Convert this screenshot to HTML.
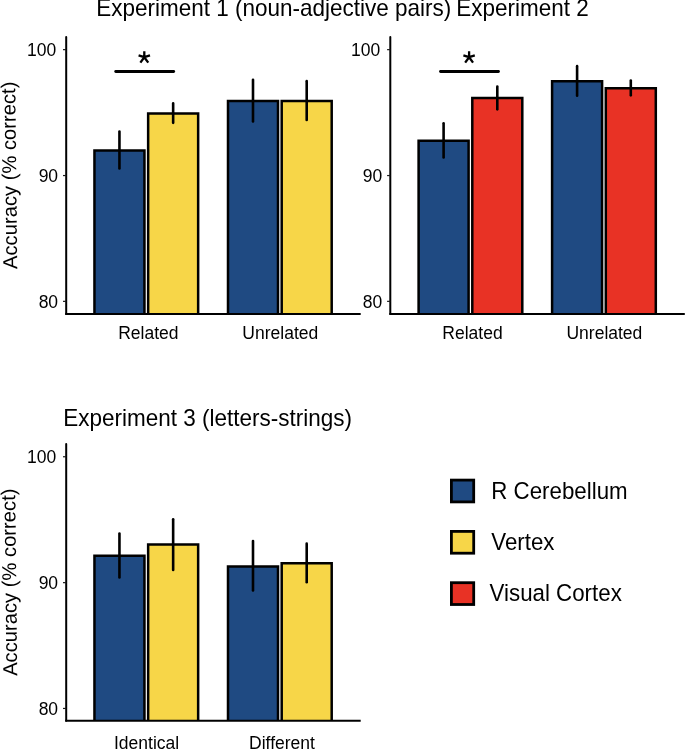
<!DOCTYPE html>
<html><head><meta charset="utf-8"><style>
html,body{margin:0;padding:0;background:#fff;width:685px;height:749px;overflow:hidden}
svg{display:block;will-change:transform;font-family:"Liberation Sans", sans-serif;fill:#000}
</style></head><body>
<svg width="685" height="749" viewBox="0 0 685 749">
<rect width="685" height="749" fill="#fff"/>
<line x1="66.2" y1="37" x2="66.2" y2="314.0" stroke="#000" stroke-width="2.0" stroke-linecap="round"/>
<path d="M94.45,314.0 V150.40 H144.45 V314.0" fill="#1f4a82" stroke="#000" stroke-width="2.5" stroke-linejoin="miter"/>
<path d="M148.15,314.0 V113.40 H198.15 V314.0" fill="#f7d648" stroke="#000" stroke-width="2.5" stroke-linejoin="miter"/>
<path d="M228.00,314.0 V101.05 H278.00 V314.0" fill="#1f4a82" stroke="#000" stroke-width="2.5" stroke-linejoin="miter"/>
<path d="M281.70,314.0 V101.05 H331.70 V314.0" fill="#f7d648" stroke="#000" stroke-width="2.5" stroke-linejoin="miter"/>
<line x1="119.45" y1="131.60" x2="119.45" y2="168.40" stroke="#000" stroke-width="2.6" stroke-linecap="round"/>
<line x1="173.15" y1="103.40" x2="173.15" y2="122.85" stroke="#000" stroke-width="2.6" stroke-linecap="round"/>
<line x1="253.00" y1="79.75" x2="253.00" y2="121.55" stroke="#000" stroke-width="2.6" stroke-linecap="round"/>
<line x1="306.70" y1="81.15" x2="306.70" y2="119.95" stroke="#000" stroke-width="2.6" stroke-linecap="round"/>
<line x1="65.2" y1="314.0" x2="360.7" y2="314.0" stroke="#000" stroke-width="2.0" stroke-linecap="butt"/>
<line x1="63.0" y1="49.65" x2="66.2" y2="49.65" stroke="#1a1a1a" stroke-width="1.2"/>
<text x="56.20" y="55.80" text-anchor="end" font-size="17.5">100</text>
<line x1="63.0" y1="175.55" x2="66.2" y2="175.55" stroke="#1a1a1a" stroke-width="1.2"/>
<text x="58.10" y="181.70" text-anchor="end" font-size="17.5">90</text>
<line x1="63.0" y1="301.34999999999997" x2="66.2" y2="301.34999999999997" stroke="#1a1a1a" stroke-width="1.2"/>
<text x="58.10" y="307.50" text-anchor="end" font-size="17.5">80</text>
<text x="148.40" y="338.5" text-anchor="middle" font-size="17.5">Related</text>
<text x="280.30" y="338.5" text-anchor="middle" font-size="17.5">Unrelated</text>
<line x1="115.7" y1="71.5" x2="173.7" y2="71.5" stroke="#000" stroke-width="2.8" stroke-linecap="round"/>
<path d="M144.30,57.20 L144.30,51.20 M144.30,57.20 L150.01,55.35 M144.30,57.20 L148.24,62.62 M144.30,57.20 L140.36,62.62 M144.30,57.20 L138.59,55.35" stroke="#000" stroke-width="2.3" fill="none"/>
<line x1="390.3" y1="37" x2="390.3" y2="314.0" stroke="#000" stroke-width="2.0" stroke-linecap="round"/>
<path d="M418.60,314.0 V140.65 H468.60 V314.0" fill="#1f4a82" stroke="#000" stroke-width="2.5" stroke-linejoin="miter"/>
<path d="M472.30,314.0 V98.05 H522.30 V314.0" fill="#e83225" stroke="#000" stroke-width="2.5" stroke-linejoin="miter"/>
<path d="M552.10,314.0 V81.35 H602.10 V314.0" fill="#1f4a82" stroke="#000" stroke-width="2.5" stroke-linejoin="miter"/>
<path d="M605.80,314.0 V88.30 H655.80 V314.0" fill="#e83225" stroke="#000" stroke-width="2.5" stroke-linejoin="miter"/>
<line x1="443.60" y1="123.25" x2="443.60" y2="157.55" stroke="#000" stroke-width="2.6" stroke-linecap="round"/>
<line x1="497.30" y1="86.55" x2="497.30" y2="109.35" stroke="#000" stroke-width="2.6" stroke-linecap="round"/>
<line x1="577.10" y1="66.15" x2="577.10" y2="95.75" stroke="#000" stroke-width="2.6" stroke-linecap="round"/>
<line x1="630.80" y1="80.45" x2="630.80" y2="95.35" stroke="#000" stroke-width="2.6" stroke-linecap="round"/>
<line x1="389.3" y1="314.0" x2="684.8" y2="314.0" stroke="#000" stroke-width="2.0" stroke-linecap="butt"/>
<line x1="387.1" y1="49.65" x2="390.3" y2="49.65" stroke="#1a1a1a" stroke-width="1.2"/>
<text x="380.30" y="55.80" text-anchor="end" font-size="17.5">100</text>
<line x1="387.1" y1="175.55" x2="390.3" y2="175.55" stroke="#1a1a1a" stroke-width="1.2"/>
<text x="382.20" y="181.70" text-anchor="end" font-size="17.5">90</text>
<line x1="387.1" y1="301.34999999999997" x2="390.3" y2="301.34999999999997" stroke="#1a1a1a" stroke-width="1.2"/>
<text x="382.20" y="307.50" text-anchor="end" font-size="17.5">80</text>
<text x="472.50" y="338.5" text-anchor="middle" font-size="17.5">Related</text>
<text x="604.40" y="338.5" text-anchor="middle" font-size="17.5">Unrelated</text>
<line x1="440.5" y1="71.5" x2="498.5" y2="71.5" stroke="#000" stroke-width="2.8" stroke-linecap="round"/>
<path d="M469.10,57.20 L469.10,51.20 M469.10,57.20 L474.81,55.35 M469.10,57.20 L473.04,62.62 M469.10,57.20 L465.16,62.62 M469.10,57.20 L463.39,55.35" stroke="#000" stroke-width="2.3" fill="none"/>
<line x1="66.2" y1="444.1" x2="66.2" y2="720.7" stroke="#000" stroke-width="2.0" stroke-linecap="round"/>
<path d="M94.45,720.7 V555.75 H144.45 V720.7" fill="#1f4a82" stroke="#000" stroke-width="2.5" stroke-linejoin="miter"/>
<path d="M148.15,720.7 V544.60 H198.15 V720.7" fill="#f7d648" stroke="#000" stroke-width="2.5" stroke-linejoin="miter"/>
<path d="M228.00,720.7 V566.45 H278.00 V720.7" fill="#1f4a82" stroke="#000" stroke-width="2.5" stroke-linejoin="miter"/>
<path d="M281.70,720.7 V563.25 H331.70 V720.7" fill="#f7d648" stroke="#000" stroke-width="2.5" stroke-linejoin="miter"/>
<line x1="119.45" y1="533.55" x2="119.45" y2="577.45" stroke="#000" stroke-width="2.6" stroke-linecap="round"/>
<line x1="173.15" y1="519.20" x2="173.15" y2="569.95" stroke="#000" stroke-width="2.6" stroke-linecap="round"/>
<line x1="253.00" y1="541.05" x2="253.00" y2="590.55" stroke="#000" stroke-width="2.6" stroke-linecap="round"/>
<line x1="306.70" y1="543.65" x2="306.70" y2="582.15" stroke="#000" stroke-width="2.6" stroke-linecap="round"/>
<line x1="65.2" y1="720.7" x2="360.7" y2="720.7" stroke="#000" stroke-width="2.0" stroke-linecap="butt"/>
<line x1="63.0" y1="456.75" x2="66.2" y2="456.75" stroke="#1a1a1a" stroke-width="1.2"/>
<text x="56.20" y="462.90" text-anchor="end" font-size="17.5">100</text>
<line x1="63.0" y1="582.65" x2="66.2" y2="582.65" stroke="#1a1a1a" stroke-width="1.2"/>
<text x="58.10" y="588.80" text-anchor="end" font-size="17.5">90</text>
<line x1="63.0" y1="708.4499999999999" x2="66.2" y2="708.4499999999999" stroke="#1a1a1a" stroke-width="1.2"/>
<text x="58.10" y="714.60" text-anchor="end" font-size="17.5">80</text>
<text x="146.60" y="749.2" text-anchor="middle" font-size="17.5">Identical</text>
<text x="282.00" y="749.2" text-anchor="middle" font-size="17.5">Different</text>
<text transform="translate(96.3,16.3) scale(1,1.04)" font-size="22.5">Experiment 1 (noun-adjective pairs)</text>
<text transform="translate(456.3,16.3) scale(1,1.04)" font-size="22.5">Experiment 2</text>
<text transform="translate(63.3,425.9) scale(1,1.04)" font-size="22.5">Experiment 3 (letters-strings)</text>
<text transform="translate(16.2,175.3) rotate(-90.6)" text-anchor="middle" font-size="20.2">Accuracy (% correct)</text>
<text transform="translate(16.2,582.2) rotate(-90.6)" text-anchor="middle" font-size="20.2">Accuracy (% correct)</text>
<rect x="451.4" y="480.10" width="22.3" height="21.8" fill="#1f4a82" stroke="#000" stroke-width="2.8"/>
<text transform="translate(491.3,498.70) scale(1,1.1)" font-size="22.3">R Cerebellum</text>
<rect x="451.4" y="531.40" width="22.3" height="21.8" fill="#f7d648" stroke="#000" stroke-width="2.8"/>
<text transform="translate(491.3,550.00) scale(1,1.1)" font-size="22.3">Vertex</text>
<rect x="451.4" y="582.70" width="22.3" height="21.8" fill="#e83225" stroke="#000" stroke-width="2.8"/>
<text transform="translate(489.6,601.30) scale(1,1.1)" font-size="22.3">Visual Cortex</text>
</svg>
</body></html>
